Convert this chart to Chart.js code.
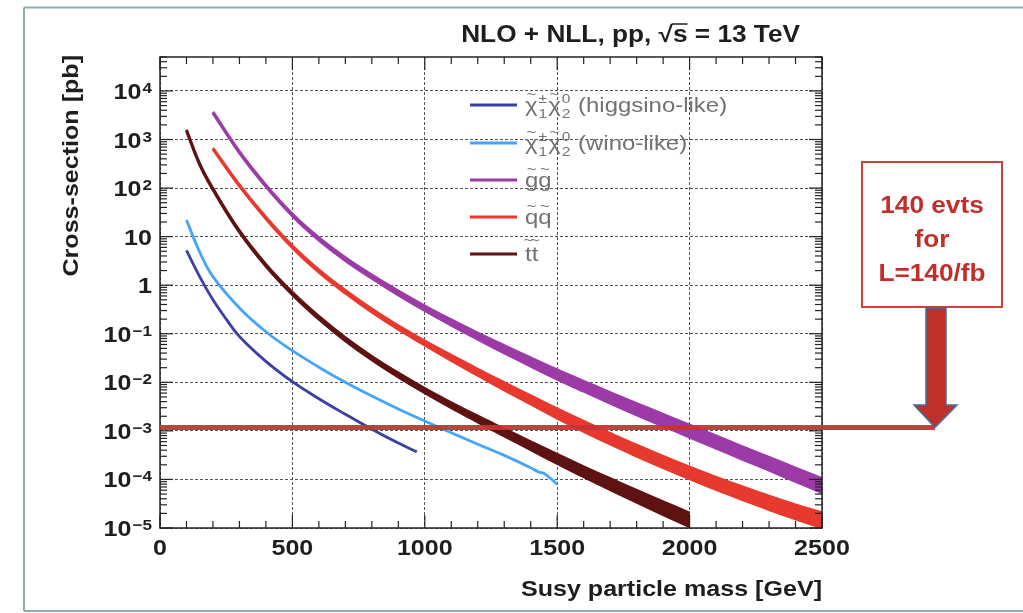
<!DOCTYPE html>
<html>
<head>
<meta charset="utf-8">
<script src="https://cdn.jsdelivr.net/npm/chart.js@4.4.1/dist/chart.umd.min.js"></script>
<style>
  html, body { margin: 0; padding: 0; background: #fff; }
  canvas { display: block; }
</style>
</head>
<body>
<canvas id="mycanvas" width="1023" height="613"></canvas>
<script>
// values (mass in GeV, cross-section in pb)
var higgsinoMass = [100, 150, 200, 250, 300, 400, 500, 600, 700, 800, 900, 970];
var higgsinoXsec = [5.2, 1.5, 0.5, 0.2, 0.088, 0.027, 0.0103, 0.0046, 0.0022, 0.00108, 0.00056, 0.00037];

var winoMass = [100, 150, 200, 300, 400, 500, 600, 700, 800, 900, 1000, 1100, 1200, 1300, 1400, 1430, 1450, 1500];
var winoXsec = [22, 4.8, 1.5, 0.34, 0.11, 0.0448, 0.0205, 0.01, 0.0052, 0.00282, 0.00159, 0.000914, 0.000532, 0.000313, 0.000175, 0.000142, 0.000133, 0.00008];

var gluinoMass = [200, 300, 400, 500, 600, 700, 800, 900, 1000, 1100, 1200, 1300, 1400, 1500, 1600, 1700, 1800, 1900, 2000, 2100, 2200, 2300, 2400, 2500];
var gluinoXsec = [3600, 545, 111, 28, 9.0, 3.45, 1.5, 0.69, 0.335, 0.17, 0.089, 0.048, 0.0262, 0.0145, 0.0083, 0.0048, 0.0028, 0.00166, 0.00099, 0.00059, 0.00035, 0.00021, 0.000125, 0.000075];
var gluinoErr = [1.03, 1.03, 1.04, 1.05, 1.06, 1.07, 1.08, 1.1, 1.12, 1.14, 1.16, 1.19, 1.22, 1.25, 1.27, 1.29, 1.31, 1.32, 1.33, 1.34, 1.35, 1.36, 1.38, 1.4];

var squarkMass = [200, 300, 400, 500, 600, 700, 800, 900, 1000, 1100, 1200, 1300, 1400, 1500, 1600, 1700, 1800, 1900, 2000, 2100, 2200, 2300, 2400, 2500];
var squarkXsec = [650, 113, 24.2, 6.2, 1.96, 0.73, 0.30, 0.134, 0.0643, 0.0318, 0.0161, 0.0083, 0.00434, 0.00228, 0.00124, 0.00069, 0.000392, 0.000228, 0.000136, 0.000083, 0.000052, 0.000033, 0.0000215, 0.0000144];
var squarkErr = [1.03, 1.03, 1.04, 1.05, 1.06, 1.07, 1.08, 1.09, 1.1, 1.13, 1.16, 1.19, 1.22, 1.25, 1.27, 1.29, 1.3, 1.31, 1.32, 1.34, 1.36, 1.38, 1.4, 1.43];

var stopMass = [100, 150, 200, 300, 400, 500, 600, 700, 800, 900, 1000, 1100, 1200, 1300, 1400, 1500, 1600, 1700, 1800, 1900, 2000];
var stopXsec = [1550, 310, 95, 12.8, 2.56, 0.673, 0.213, 0.0773, 0.0315, 0.0141, 0.00673, 0.00337, 0.00175, 0.000929, 0.000493, 0.000265, 0.000144, 0.00008, 0.000045, 0.0000256, 0.0000147];
var stopErr = [1.03, 1.03, 1.03, 1.04, 1.05, 1.06, 1.07, 1.08, 1.09, 1.1, 1.11, 1.13, 1.15, 1.18, 1.21, 1.24, 1.27, 1.3, 1.33, 1.36, 1.38];

var seriesNames = ['~χ^{±}_{1}~χ^{0}_{2} (higgsino-like)', '~χ^{±}_{1}~χ^{0}_{2} (wino-like)', '~g~g', '~q~q', '~t~t'];
var seriesColors = ['#3b3fa6', '#45a6f7', '#9c3aa8', '#e8392f', '#5e1212'];

var xTicks = [0, 500, 1000, 1500, 2000, 2500];
var yTickExp = [-5, -4, -3, -2, -1, 0, 1, 2, 3, 4];
var threshold = 1.18e-3;
var boxLines = ['140 evts', 'for', 'L=140/fb'];
var titleText = ['NLO + NLL, pp, ', '√', 's', ' = 13 TeV'];

var SX = 1.14;
var FONT = '"Liberation Sans", Arial, sans-serif';

function pts(m, v) {
  var out = [];
  for (var i = 0; i < m.length; i++) out.push({ x: m[i], y: v[i] });
  return out;
}
function bandPts(m, v, e, up) {
  var out = [];
  for (var i = 0; i < m.length; i++) out.push({ x: m[i], y: up ? v[i] * e[i] : v[i] / e[i] });
  return out;
}
function lineSet(data, color) {
  return { data: data, borderColor: color, backgroundColor: color, borderWidth: 2.8, pointRadius: 0, fill: false, tension: 0.4 };
}
function bandSets(m, v, e, color) {
  var up = lineSet(bandPts(m, v, e, true), color);
  var lo = lineSet(bandPts(m, v, e, false), color);
  lo.fill = '-1';
  return [up, lo];
}

var datasets = [
  lineSet(pts(higgsinoMass, higgsinoXsec), seriesColors[0]),
  lineSet(pts(winoMass, winoXsec), seriesColors[1])
].concat(bandSets(gluinoMass, gluinoXsec, gluinoErr, seriesColors[2]))
 .concat(bandSets(squarkMass, squarkXsec, squarkErr, seriesColors[3]))
 .concat(bandSets(stopMass, stopXsec, stopErr, seriesColors[4]));

// draw text stretched horizontally, left aligned at x, returns advance
function txt(c, s, x, y, size, color, bold) {
  c.save();
  c.font = (bold ? 'bold ' : '') + size + 'px ' + FONT;
  c.fillStyle = color;
  c.textAlign = 'left';
  c.textBaseline = 'alphabetic';
  var w = c.measureText(s).width * SX;
  c.translate(x, y);
  c.scale(SX, 1);
  c.fillText(s, 0, 0);
  c.restore();
  return w;
}
function txtW(c, s, size, bold) {
  c.save();
  c.font = (bold ? 'bold ' : '') + size + 'px ' + FONT;
  var w = c.measureText(s).width * SX;
  c.restore();
  return w;
}
function seg(c, x1, y1, x2, y2) {
  c.beginPath(); c.moveTo(x1, y1); c.lineTo(x2, y2); c.stroke();
}

// tiny ROOT-like markup: ~c tilde char, ^{..} sup, _{..} sub
function drawMarkup(c, s, x, y, size, color) {
  var i = 0, run = '';
  function flush() { if (run) { x += txt(c, run, x, y, size, color); run = ''; } }
  while (i < s.length) {
    var ch = s[i];
    if (ch === '~') {
      flush();
      var g = s[i + 1];
      var w = txtW(c, g, size);
      txt(c, g, x, y, size, color);
      var tw = txtW(c, '~', size * 0.7);
      var ty = (g === 't') ? y - size * 0.78 : y - size * 0.6;
      txt(c, '~', x + (w - tw) / 2, ty, size * 0.7, color);
      x += w;
      i += 2;
    } else if ((ch === '^' || ch === '_') && s[i + 1] === '{') {
      flush();
      var sup = null, sub = null;
      while ((s[i] === '^' || s[i] === '_') && s[i + 1] === '{') {
        var end = s.indexOf('}', i);
        var inner = s.substring(i + 2, end);
        if (s[i] === '^') sup = inner; else sub = inner;
        i = end + 1;
      }
      var ss = size * 0.65, adv = 0;
      if (sup) { txt(c, sup, x + 1, y - size * 0.42, ss, color); adv = Math.max(adv, txtW(c, sup, ss)); }
      if (sub) { txt(c, sub, x + 1, y + size * 0.28, ss, color); adv = Math.max(adv, txtW(c, sub, ss)); }
      x += adv + 2;
    } else {
      run += ch;
      i++;
    }
  }
  flush();
}

var decor = {
  id: 'decor',
  beforeDraw: function (chart) {
    var c = chart.ctx;
    c.save();
    c.fillStyle = '#fff';
    c.fillRect(0, 0, chart.width, chart.height);
    c.restore();
  },
  afterDatasetsDraw: function (chart) {
    var c = chart.ctx, a = chart.chartArea, xs = chart.scales.x, ys = chart.scales.y;
    c.save();
    c.strokeStyle = '#222';
    c.lineWidth = 1.5;
    c.strokeRect(a.left, a.top, a.right - a.left, a.bottom - a.top);
    c.lineWidth = 1.2;
    for (var v = 0; v <= 2500; v += 100) {
      var px = xs.getPixelForValue(v);
      var len = v % 500 === 0 ? 13 : 7;
      seg(c, px, a.bottom, px, a.bottom - len);
      seg(c, px, a.top, px, a.top + len);
    }
    for (var d = -5; d <= 4; d++) {
      for (var k = 1; k <= 9; k++) {
        var val = k * Math.pow(10, d);
        if (val > ys.max) break;
        var py = ys.getPixelForValue(val);
        var l = k === 1 ? 13 : 7;
        seg(c, a.left, py, a.left + l, py);
        seg(c, a.right, py, a.right - l, py);
      }
    }
    // threshold line
    var ty = ys.getPixelForValue(threshold);
    c.strokeStyle = 'rgba(196,52,52,0.95)';
    c.lineWidth = 5;
    seg(c, a.left, ty, 935, ty);
    c.restore();
  },
  afterDraw: function (chart) {
    var c = chart.ctx, a = chart.chartArea, xs = chart.scales.x, ys = chart.scales.y;
    var ink = '#1e1e1e';

    // x tick labels
    xTicks.forEach(function (v) {
      var s = String(v), w = txtW(c, s, 22, true);
      txt(c, s, xs.getPixelForValue(v) - w / 2, 555, 22, ink, true);
    });
    // y tick labels
    yTickExp.forEach(function (e) {
      var py = ys.getPixelForValue(Math.pow(10, e));
      var base = py + 8, right = 152;
      if (e === 0) {
        txt(c, '1', right - txtW(c, '1', 22, true), base, 22, ink, true);
      } else if (e === 1) {
        txt(c, '10', right - txtW(c, '10', 22, true), base, 22, ink, true);
      } else {
        var sup = e < 0 ? '\u2212' + (-e) : String(e);
        var sw = txtW(c, sup, 15, true), mw = txtW(c, '10', 22, true);
        var x0 = right - sw - mw - 1;
        txt(c, '10', x0, base, 22, ink, true);
        txt(c, sup, x0 + mw + 1, base - 6, 15, ink, true);
      }
    });
    // axis titles
    var xt = 'Susy particle mass [GeV]';
    txt(c, xt, a.right - txtW(c, xt, 22, true), 596, 22, ink, true);
    var yt = 'Cross-section [pb]';
    c.save();
    c.translate(78, 55);
    c.rotate(-Math.PI / 2);
    txt(c, yt, -txtW(c, yt, 22, true), 0, 22, ink, true);
    c.restore();

    // title, right aligned at x=800
    var tw = 0;
    titleText.forEach(function (s) { tw += txtW(c, s, 23, true); });
    var tx = 800 - tw;
    tx += txt(c, titleText[0], tx, 42, 23, ink, true);
    tx += txt(c, titleText[1], tx, 42, 23, ink, true);
    var sW = txtW(c, titleText[2], 23, true);
    txt(c, titleText[2], tx, 42, 23, ink, true);
    c.save();
    c.strokeStyle = ink; c.lineWidth = 1.5;
    seg(c, tx - 1, 24, tx + sW, 24);
    c.restore();
    tx += sW;
    txt(c, titleText[3], tx, 42, 23, ink, true);

    // legend
    var rows = [105, 143, 180, 217, 254];
    seriesNames.forEach(function (name, i) {
      c.save();
      c.strokeStyle = seriesColors[i];
      c.lineWidth = 3;
      seg(c, 470, rows[i], 517, rows[i]);
      c.restore();
      drawMarkup(c, name, 525, rows[i] + 7, 21, '#727272');
    });

    // annotation box and arrow
    c.save();
    c.fillStyle = '#fff';
    c.fillRect(862, 162, 140, 145);
    c.strokeStyle = '#c9403f';
    c.lineWidth = 2;
    c.strokeRect(862, 162, 140, 145);
    var ly = [213, 247, 281];
    boxLines.forEach(function (s, i) {
      var w = txtW(c, s, 23, true);
      txt(c, s, 932 - w / 2, ly[i], 23, '#c0302b', true);
    });
    var tipY = ys.getPixelForValue(threshold);
    c.beginPath();
    c.moveTo(926, 308); c.lineTo(946, 308); c.lineTo(946, 405); c.lineTo(957, 405);
    c.lineTo(935, tipY); c.lineTo(914, 405); c.lineTo(926, 405); c.closePath();
    c.fillStyle = '#c0302a';
    c.fill();
    c.strokeStyle = '#4a6c9c';
    c.lineWidth = 1.5;
    c.stroke();
    c.restore();

    // outer frame
    c.save();
    c.strokeStyle = '#8eacae';
    c.lineWidth = 2;
    seg(c, 24, 7.5, 1023, 7.5);
    seg(c, 24, 7.5, 24, 611);
    seg(c, 24, 611, 1023, 611);
    c.restore();
  }
};

var ctx = document.getElementById('mycanvas');
var chart = new Chart(ctx, {
  type: 'line',
  data: { datasets: datasets },
  options: {
    responsive: false,
    animation: false,
    layout: { padding: { top: 57, right: 201, left: 0, bottom: 0 } },
    plugins: { legend: { display: false }, tooltip: { enabled: false } },
    scales: {
      x: {
        type: 'linear', min: 0, max: 2500,
        afterBuildTicks: function (s) { s.ticks = xTicks.map(function (v) { return { value: v }; }); },
        afterFit: function (s) { s.height = 85; },
        ticks: { display: false },
        grid: { color: '#555', lineWidth: 1, drawTicks: false },
        border: { display: false, dash: [3, 2] }
      },
      y: {
        type: 'logarithmic', min: 1e-5, max: 5e4,
        afterBuildTicks: function (s) { s.ticks = yTickExp.map(function (e) { return { value: Math.pow(10, e) }; }); },
        afterFit: function (s) { s.width = 160; },
        ticks: { display: false },
        grid: { color: '#555', lineWidth: 1, drawTicks: false },
        border: { display: false, dash: [3, 2] }
      }
    }
  },
  plugins: [decor]
});
</script>
</body>
</html>
